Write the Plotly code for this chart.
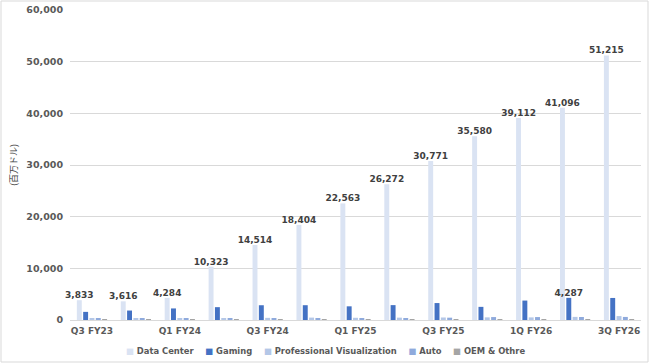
import plotly.graph_objects as go

categories = ["Q3 FY23", "Q4 FY23", "Q1 FY24", "Q2 FY24", "Q3 FY24", "Q4 FY24", "Q1 FY25",
              "Q2 FY25", "Q3 FY25", "Q4 FY25", "1Q FY26", "2Q FY26", "3Q FY26"]
tick_labels = ["Q3 FY23", "Q1 FY24", "Q3 FY24", "Q1 FY25", "Q3 FY25", "1Q FY26", "3Q FY26"]

data_center = [3833, 3616, 4284, 10323, 14514, 18404, 22563, 26272, 30771, 35580, 39112, 41096, 51215]
gaming = [1574, 1831, 2240, 2486, 2856, 2865, 2647, 2880, 3279, 2544, 3763, 4287, 4265]
pro_viz = [200, 226, 295, 379, 416, 463, 427, 454, 486, 511, 509, 601, 760]
auto = [251, 294, 296, 253, 261, 281, 329, 346, 449, 570, 567, 586, 592]
oem_other = [73, 84, 77, 66, 73, 90, 78, 88, 97, 126, 111, 173, 174]
gaming_labeled = ["2Q FY26"]

series_names = ["Data Center", "Gaming", "Professional Visualization", "Auto", "OEM & Othre"]
series_colors = ["#dae3f3", "#4472c4", "#b4c7e7", "#8faadc", "#a5a5a5"]
series_values = [data_center, gaming, pro_viz, auto, oem_other]

FONT = "DejaVu Sans"
label_font = dict(family=FONT, size=9, color="#404040", weight="bold")

fig = go.Figure()
for name, color, vals in zip(series_names, series_colors, series_values):
    kw = {}
    if name == "Data Center":
        kw = dict(texttemplate="%{y:,}", textposition="outside")
    elif name == "Gaming":
        kw = dict(text=[f"{v:,}" if c in gaming_labeled else "" for c, v in zip(categories, vals)],
                  textposition="outside")
    fig.add_bar(name=name, x=categories, y=vals, marker_color=color, marker_line_width=0,
                textfont=label_font, cliponaxis=False, constraintext="none", **kw)

legend_text = "    ".join(
    f"<span style='color:{c}'>■</span> {n}" for n, c in zip(series_names, series_colors))

W, H = 650, 364
ml, mr, mt, mb = 70, 9, 10, 44
pw, ph = W - ml - mr, H - mt - mb

fig.update_layout(
    width=W, height=H,
    margin=dict(l=ml, r=mr, t=mt, b=mb, autoexpand=False),
    paper_bgcolor="white", plot_bgcolor="white",
    barmode="group", bargap=0.28, bargroupgap=0.22,
    font=dict(family=FONT, color="#595959"),
    showlegend=False,
    annotations=[dict(text=legend_text, xref="paper", yref="paper",
                      x=(W / 2 - ml) / pw, y=(-mb + 13) / ph,
                      xanchor="center", yanchor="middle", showarrow=False,
                      font=dict(family=FONT, size=8.4, color="#595959", weight="bold"))],
    xaxis=dict(type="category", tickmode="array", tickvals=tick_labels, ticktext=tick_labels,
               tickfont=dict(family=FONT, size=9, color="#595959", weight="bold"),
               showgrid=False, showline=False, ticks="", ticklen=0, ticklabelstandoff=4),
    yaxis=dict(range=[0, 60000], dtick=10000, tickformat=",",
               tickfont=dict(family=FONT, size=9.5, color="#595959", weight="bold"),
               gridcolor="#d9d9d9", gridwidth=1, zeroline=True, zerolinecolor="#d9d9d9",
               zerolinewidth=1, showline=False, ticks="", ticklabelstandoff=6,
               title=dict(text="(百万ドル)", standoff=7,
                          font=dict(family="Noto Sans CJK JP", size=9, color="#404040"))),
    shapes=[dict(type="rect", xref="paper", yref="paper",
                 x0=(-ml + 1) / pw, x1=1 + (mr - 2) / pw,
                 y0=(-mb + 2) / ph, y1=1 + (mt - 1) / ph,
                 line=dict(color="#d9d9d9", width=1), layer="below")],
)

fig.write_html("out.html", config={"displayModeBar": False},
               post_script="document.body.style.margin='0';document.body.style.overflow='hidden';")
